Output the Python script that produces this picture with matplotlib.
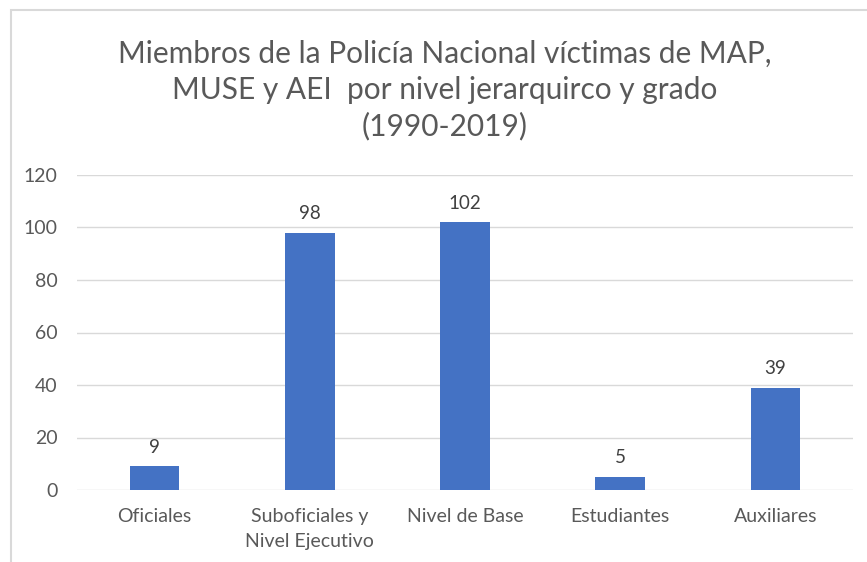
import matplotlib.pyplot as plt
from matplotlib.patches import Rectangle

categorias = ["Oficiales", "Suboficiales y\nNivel Ejecutivo", "Nivel de Base", "Estudiantes", "Auxiliares"]
valores = [9, 98, 102, 5, 39]
y_ticks = [0, 20, 40, 60, 80, 100, 120]

titulo = "Miembros de la Policía Nacional víctimas de MAP,\nMUSE y AEI  por nivel jerarquirco y grado\n(1990-2019)"

plt.rcParams['font.family'] = ['Lato', 'DejaVu Sans']
texto = "#595959"

fig = plt.figure(figsize=(8.67, 5.62), dpi=100)
fig.patch.set_facecolor("white")

# marco del grafico (se sale por la derecha y abajo)
fig.patches.append(Rectangle((11 / 867, -0.1), 1.2, 1 - 10 / 562 + 0.1,
                             transform=fig.transFigure, fill=False,
                             edgecolor="#d9d9d9", linewidth=1.5))

ax = fig.add_axes([77 / 867, 1 - 490 / 562, (853 - 77) / 867, (490 - 175) / 562])
x = range(len(categorias))
bars = ax.bar(x, valores, width=0.32, color="#4472c4", zorder=3)

for b, v in zip(bars, valores):
    ax.text(b.get_x() + b.get_width() / 2, v + 4.0, str(v), ha="center", va="bottom",
            fontsize=13.5, color="#404040")

ax.set_ylim(0, 120)
ax.set_xlim(-0.5, len(categorias) - 0.5)
ax.set_yticks(y_ticks)
ax.set_xticks(list(x))
ax.set_xticklabels(categorias, fontsize=14, color=texto, linespacing=1.6)
ax.tick_params(axis="y", labelsize=14, labelcolor=texto, length=0, pad=14)
ax.tick_params(axis="x", length=0, pad=13)
ax.grid(axis="y", color="#d9d9d9", linewidth=1, zorder=0)
for s in ax.spines.values():
    s.set_visible(False)

fig.text(445 / 867, 1 - 90 / 562, titulo, ha="center", va="center", fontsize=21.5,
         color=texto, linespacing=1.35)

fig.savefig("out.png", dpi=100)
